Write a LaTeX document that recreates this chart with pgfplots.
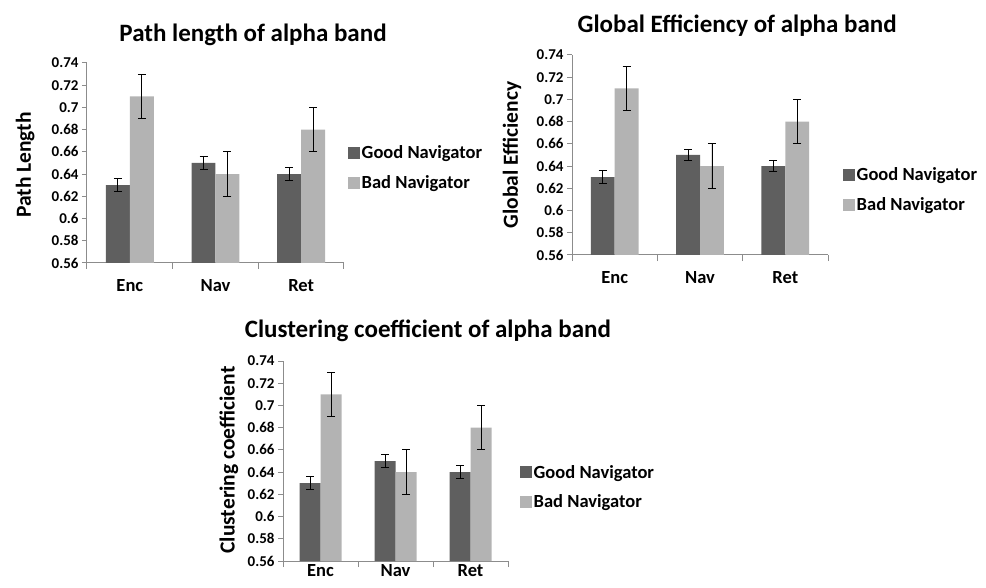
\documentclass[border=0pt]{standalone}
\usepackage{fontspec}
\setmainfont{Carlito}
\usepackage{pgfplots}
\pgfplotsset{compat=1.18}

\definecolor{goodc}{HTML}{5F5F5F}
\definecolor{badc}{HTML}{B3B3B3}
\definecolor{axisgray}{HTML}{8C8C8C}

\newcommand\ftitle{\fontsize{25}{30}\selectfont\bfseries}
\newcommand\flabel{\fontsize{21.5}{26}\selectfont\bfseries}
\newcommand\flegend{\fontsize{18.5}{22}\selectfont\bfseries}
\newcommand\fcat{\fontsize{18.5}{22}\selectfont\bfseries}
\newcommand\ftick{\fontsize{15}{18}\selectfont\bfseries}

\pgfplotsset{
  navpanel/.style={
    scale only axis, height=200pt,
    ymin=0.56, ymax=0.74,
    ytick={0.56,0.58,0.6,0.62,0.64,0.66,0.68,0.7,0.72,0.74},
    xmin=0, xmax=3,
    xtick={0.5,1.5,2.5}, xticklabels={Enc,Nav,Ret},
    minor xtick={0,1,2,3},
    axis x line*=bottom, axis y line*=left,
    axis line style={axisgray, line width=1pt, -},
    tick align=outside,
    major x tick style={draw=none},
    minor x tick style={axisgray, line width=1pt},
    y tick style={axisgray, line width=1pt},
    major tick length=5pt, minor tick length=6pt,
    yticklabel style={/pgf/number format/fixed, /pgf/number format/precision=2,
      /pgf/number format/assume math mode=true, font=\ftick},
    xticklabel style={font=\fcat, yshift=-8pt},
    ylabel style={font=\flabel, anchor=center},
    every axis title shift=0pt,
    title style={font=\ftitle, anchor=center},
    ybar, bar width=0.28,
    legend image code/.code={\fill[##1] (0pt,-6pt) rectangle (12pt,6pt);},
    legend style={draw=none, fill=none, font=\flegend, anchor=west,
      row sep=12pt, nodes={inner sep=1.5pt}},
    legend cell align=left,
  },
  goodbar/.style={fill=goodc, draw=none, bar shift=-0.14,
    error bars/.cd, y dir=both, y explicit,
    error bar style={black, line width=0.8pt},
    error mark options={black, rotate=90, mark size=4pt, line width=0.8pt}},
  badbar/.style={fill=badc, draw=none, bar shift=0.14,
    error bars/.cd, y dir=both, y explicit,
    error bar style={black, line width=0.8pt},
    error mark options={black, rotate=90, mark size=4pt, line width=0.8pt}},
}

\begin{document}
\begin{tikzpicture}
\useasboundingbox (0pt,0pt) rectangle (986pt,587pt);

% Path length
\begin{axis}[navpanel, width=257pt, at={(87pt,324pt)}, anchor=south west,
  title={Path length of alpha band},
  title style={at={(axis description cs:0.646,1.14)}},
  ylabel={Path Length},
  ylabel style={at={(axis description cs:-0.241,0.49)}},
  legend style={at={(axis description cs:1.004,0.475)}}]
\addplot[goodbar] coordinates {(0.5,0.63) +- (0,0.006) (1.5,0.65) +- (0,0.006) (2.5,0.64) +- (0,0.006)};
\addplot[badbar] coordinates {(0.5,0.71) +- (0,0.02) (1.5,0.64) +- (0,0.02) (2.5,0.68) +- (0,0.02)};
\legend{Good Navigator, Bad Navigator}
\end{axis}

% Global efficiency
\begin{axis}[navpanel, width=256pt, at={(572pt,332pt)}, anchor=south west,
  title={Global Efficiency of alpha band},
  title style={at={(axis description cs:0.645,1.145)}},
  ylabel={Global Efficiency},
  ylabel style={at={(axis description cs:-0.234,0.5)}},
  legend style={at={(axis description cs:1.047,0.325)}}]
\addplot[goodbar] coordinates {(0.5,0.63) +- (0,0.006) (1.5,0.65) +- (0,0.005) (2.5,0.64) +- (0,0.005)};
\addplot[badbar] coordinates {(0.5,0.71) +- (0,0.02) (1.5,0.64) +- (0,0.02) (2.5,0.68) +- (0,0.02)};
\legend{Good Navigator, Bad Navigator}
\end{axis}

% Clustering coefficient
\begin{axis}[navpanel, width=225pt, at={(283pt,26pt)}, anchor=south west,
  title={Clustering coefficient of alpha band},
  title style={at={(axis description cs:0.644,1.15)}},
  ylabel={Clustering coefficient},
  ylabel style={at={(axis description cs:-0.24,0.505)}},
  xticklabel style={yshift=11pt, inner sep=1pt},
  legend style={at={(axis description cs:1.04,0.37)}}]
\addplot[goodbar] coordinates {(0.5,0.63) +- (0,0.006) (1.5,0.65) +- (0,0.006) (2.5,0.64) +- (0,0.006)};
\addplot[badbar] coordinates {(0.5,0.71) +- (0,0.02) (1.5,0.64) +- (0,0.02) (2.5,0.68) +- (0,0.02)};
\legend{Good Navigator, Bad Navigator}
\end{axis}
\end{tikzpicture}
\end{document}
